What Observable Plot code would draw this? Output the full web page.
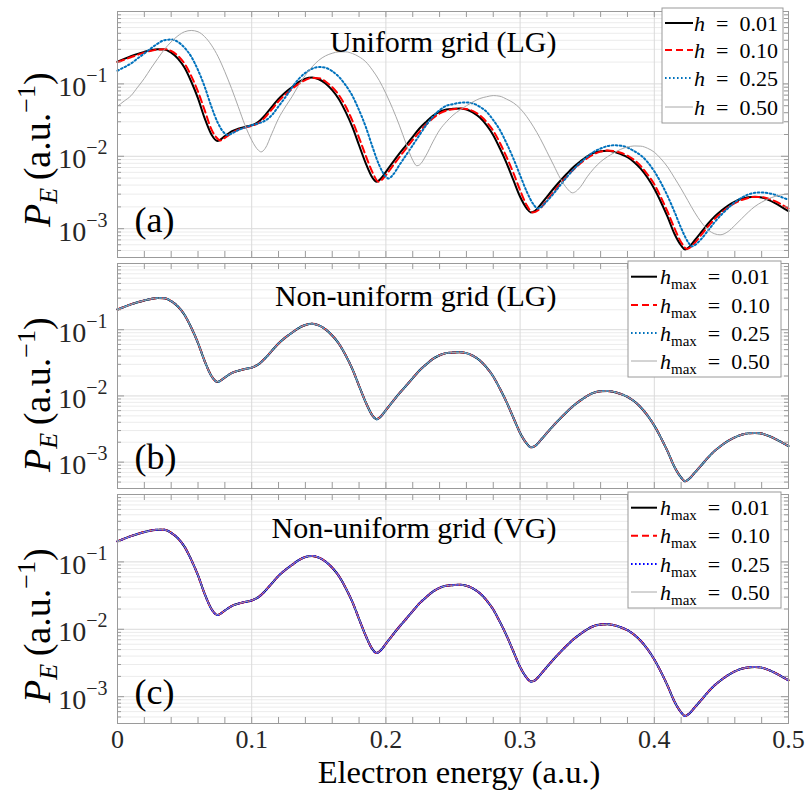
<!DOCTYPE html>
<html>
<head>
<meta charset="utf-8">
<script src="https://cdn.jsdelivr.net/npm/d3@7"></script>
<script src="https://cdn.jsdelivr.net/npm/@observablehq/plot@0.6"></script>
<style>
  body { margin: 0; background: #fff; }
  #chart { width: 805px; height: 803px; position: relative; overflow: hidden; background: #fff; }
  #chart svg { display: block; }
</style>
</head>
<body>
<div id="chart"></div>
<script>
// ---------------- DATA ----------------
// [electron energy (a.u.), P_E (a.u.^-1)]
const uniform_h001 = [[0,0.202],[0.005,0.221],[0.01,0.241],[0.015,0.26],[0.02,0.277],[0.025,0.292],[0.03,0.301],[0.035,0.299],[0.04,0.27],[0.045,0.224],[0.05,0.167],[0.055,0.107],[0.06,0.063],[0.065,0.0333],[0.07,0.020],[0.0745,0.0163],[0.08,0.019],[0.085,0.0221],[0.09,0.024],[0.095,0.0255],[0.1,0.0268],[0.105,0.030],[0.11,0.037],[0.115,0.048],[0.12,0.062],[0.125,0.076],[0.13,0.090],[0.135,0.106],[0.14,0.118],[0.145,0.1226],[0.15,0.116],[0.155,0.1013],[0.16,0.0818],[0.165,0.0615],[0.17,0.0411],[0.175,0.0255],[0.18,0.0142],[0.185,0.0080],[0.19,0.00505],[0.193,0.00445],[0.197,0.0051],[0.2,0.0061],[0.205,0.0082],[0.21,0.0109],[0.215,0.0142],[0.22,0.0186],[0.225,0.0242],[0.23,0.0299],[0.235,0.0362],[0.24,0.0412],[0.245,0.0443],[0.25,0.0452],[0.255,0.0457],[0.26,0.0443],[0.265,0.0402],[0.27,0.0343],[0.275,0.0269],[0.28,0.0196],[0.285,0.0128],[0.29,0.0080],[0.295,0.00468],[0.3,0.00276],[0.305,0.0019],[0.308,0.00168],[0.311,0.00175],[0.315,0.00211],[0.32,0.00276],[0.325,0.00359],[0.33,0.00459],[0.335,0.00578],[0.34,0.00716],[0.345,0.00855],[0.35,0.0100],[0.355,0.0112],[0.36,0.01175],[0.365,0.0119],[0.37,0.0115],[0.375,0.0107],[0.38,0.0097],[0.385,0.0083],[0.39,0.0067],[0.395,0.00505],[0.4,0.00356],[0.405,0.00232],[0.41,0.00144],[0.415,0.00085],[0.42,0.000586],[0.423,0.000516],[0.426,0.00056],[0.43,0.000687],[0.435,0.000895],[0.44,0.00117],[0.445,0.00148],[0.45,0.00178],[0.455,0.00209],[0.46,0.00237],[0.465,0.00259],[0.47,0.00272],[0.475,0.00276],[0.48,0.0027],[0.485,0.0025],[0.49,0.00225],[0.495,0.00199],[0.5,0.00175]];

const uniform_h010 = [[0,0.20],[0.005,0.216],[0.01,0.233],[0.015,0.252],[0.02,0.27],[0.025,0.287],[0.03,0.298],[0.035,0.302],[0.04,0.285],[0.045,0.245],[0.05,0.19],[0.055,0.128],[0.06,0.078],[0.065,0.043],[0.07,0.0235],[0.075,0.0172],[0.0765,0.0165],[0.08,0.018],[0.085,0.0208],[0.09,0.0233],[0.095,0.025],[0.1,0.0263],[0.105,0.0288],[0.11,0.0345],[0.115,0.0445],[0.12,0.0575],[0.125,0.071],[0.13,0.085],[0.135,0.100],[0.14,0.113],[0.145,0.121],[0.15,0.12],[0.155,0.108],[0.16,0.09],[0.165,0.07],[0.17,0.049],[0.175,0.031],[0.18,0.018],[0.185,0.0102],[0.19,0.006],[0.1945,0.00445],[0.2,0.0055],[0.205,0.0073],[0.21,0.0097],[0.215,0.0128],[0.22,0.0168],[0.225,0.0218],[0.23,0.0275],[0.235,0.0335],[0.24,0.039],[0.245,0.0428],[0.25,0.0448],[0.255,0.0456],[0.26,0.045],[0.265,0.042],[0.27,0.0367],[0.275,0.0298],[0.28,0.0225],[0.285,0.0153],[0.29,0.0097],[0.295,0.0059],[0.3,0.0034],[0.305,0.0021],[0.3095,0.00168],[0.315,0.0019],[0.32,0.0025],[0.325,0.0032],[0.33,0.0042],[0.335,0.0053],[0.34,0.0066],[0.345,0.008],[0.35,0.0094],[0.355,0.0107],[0.36,0.0116],[0.365,0.012],[0.37,0.0118],[0.375,0.0112],[0.38,0.0102],[0.385,0.0089],[0.39,0.0073],[0.395,0.0056],[0.4,0.0041],[0.405,0.0027],[0.41,0.0017],[0.415,0.00102],[0.42,0.00065],[0.4245,0.000525],[0.43,0.00063],[0.435,0.00082],[0.44,0.00107],[0.445,0.00136],[0.45,0.00166],[0.455,0.00196],[0.46,0.00225],[0.465,0.00249],[0.47,0.00266],[0.475,0.00275],[0.48,0.00273],[0.485,0.0026],[0.49,0.0024],[0.495,0.00215],[0.5,0.0019]];

const uniform_h025 = [[0,0.152],[0.005,0.17],[0.01,0.191],[0.015,0.225],[0.02,0.263],[0.025,0.31],[0.03,0.361],[0.035,0.402],[0.04,0.41],[0.045,0.381],[0.05,0.315],[0.055,0.237],[0.06,0.155],[0.065,0.091],[0.07,0.0483],[0.075,0.0284],[0.08,0.0206],[0.082,0.0196],[0.085,0.0206],[0.09,0.023],[0.095,0.025],[0.1,0.0268],[0.105,0.0285],[0.11,0.031],[0.115,0.037],[0.12,0.049],[0.125,0.065],[0.13,0.089],[0.135,0.117],[0.14,0.142],[0.145,0.162],[0.15,0.171],[0.155,0.167],[0.16,0.15],[0.165,0.125],[0.17,0.096],[0.175,0.0685],[0.18,0.0434],[0.185,0.0255],[0.19,0.0135],[0.195,0.00754],[0.2,0.00521],[0.202,0.00493],[0.205,0.00548],[0.21,0.00754],[0.215,0.01035],[0.22,0.0142],[0.225,0.0196],[0.23,0.0269],[0.235,0.0352],[0.24,0.0434],[0.245,0.0499],[0.25,0.0525],[0.255,0.0548],[0.26,0.0554],[0.265,0.0536],[0.27,0.0483],[0.275,0.0412],[0.28,0.0316],[0.285,0.023],[0.29,0.015],[0.295,0.0093],[0.3,0.00548],[0.305,0.00324],[0.31,0.00216],[0.313,0.0019],[0.315,0.00196],[0.32,0.0024],[0.325,0.00306],[0.33,0.00399],[0.335,0.00521],[0.34,0.00664],[0.345,0.0082],[0.35,0.00984],[0.355,0.01153],[0.36,0.0128],[0.365,0.0138],[0.37,0.0142],[0.375,0.014],[0.38,0.0132],[0.385,0.0118],[0.39,0.0103],[0.395,0.0083],[0.4,0.0062],[0.405,0.0043],[0.41,0.0028],[0.415,0.00172],[0.42,0.00102],[0.425,0.00066],[0.428,0.00057],[0.43,0.00059],[0.435,0.00072],[0.44,0.00094],[0.445,0.00123],[0.45,0.00156],[0.455,0.00192],[0.46,0.00232],[0.465,0.00267],[0.47,0.00297],[0.475,0.00313],[0.48,0.00316],[0.485,0.00309],[0.49,0.00294],[0.495,0.00272],[0.5,0.0025]];

const uniform_h050 = [[0,0.0492],[0.005,0.058],[0.01,0.0685],[0.015,0.09],[0.02,0.119],[0.025,0.165],[0.03,0.224],[0.035,0.3],[0.04,0.381],[0.045,0.461],[0.05,0.525],[0.055,0.547],[0.06,0.525],[0.065,0.448],[0.07,0.343],[0.075,0.237],[0.08,0.147],[0.085,0.0863],[0.09,0.0483],[0.095,0.0269],[0.1,0.0167],[0.105,0.0121],[0.107,0.0115],[0.11,0.0128],[0.115,0.0206],[0.12,0.0333],[0.125,0.048],[0.13,0.0664],[0.135,0.096],[0.14,0.132],[0.145,0.172],[0.15,0.212],[0.155,0.244],[0.16,0.265],[0.165,0.277],[0.17,0.277],[0.175,0.263],[0.18,0.237],[0.185,0.202],[0.19,0.155],[0.195,0.112],[0.2,0.0736],[0.205,0.0457],[0.21,0.0269],[0.215,0.015],[0.22,0.00883],[0.223,0.0074],[0.225,0.0076],[0.23,0.01035],[0.235,0.0158],[0.24,0.023],[0.245,0.0299],[0.25,0.037],[0.255,0.0434],[0.26,0.0499],[0.265,0.0566],[0.27,0.0628],[0.275,0.0664],[0.28,0.069],[0.285,0.0675],[0.29,0.0615],[0.295,0.0548],[0.3,0.0457],[0.305,0.0352],[0.31,0.0255],[0.315,0.0176],[0.32,0.01153],[0.325,0.00754],[0.33,0.00493],[0.335,0.00359],[0.339,0.00313],[0.345,0.00379],[0.35,0.00521],[0.355,0.00679],[0.36,0.0084],[0.365,0.00984],[0.37,0.01117],[0.375,0.0125],[0.38,0.0134],[0.385,0.0139],[0.39,0.0138],[0.395,0.0129],[0.4,0.0114],[0.405,0.00922],[0.41,0.00708],[0.415,0.00505],[0.42,0.00356],[0.425,0.00245],[0.43,0.00169],[0.435,0.00123],[0.44,0.000966],[0.445,0.00085],[0.449,0.000823],[0.455,0.000914],[0.46,0.00111],[0.465,0.00137],[0.47,0.00169],[0.475,0.00203],[0.48,0.00232],[0.485,0.00259],[0.49,0.00279],[0.495,0.00294],[0.5,0.00303]];

// Non-uniform grids: all four h_max curves lie on top of the converged (h = 0.01) curve.
const nonuniformLG = uniform_h001;
const nonuniformVG = uniform_h001;

const stepLabels = ["0.01", "0.10", "0.25", "0.50"];
const panelTitles = ["Uniform grid (LG)", "Non-uniform grid (LG)", "Non-uniform grid (VG)"];
const panelTags = ["(a)", "(b)", "(c)"];
const xTickValues = [0, 0.1, 0.2, 0.3, 0.4, 0.5];
const xMinorTicks = [0, 0.02, 0.04, 0.06, 0.08, 0.1, 0.12, 0.14, 0.16, 0.18, 0.2, 0.22, 0.24, 0.26, 0.28, 0.3, 0.32, 0.34, 0.36, 0.38, 0.4, 0.42, 0.44, 0.46, 0.48, 0.5];
const xGridValues = [0.1, 0.2, 0.3, 0.4];
const yDecades = [1e-3, 1e-2, 1e-1, 1];
const yTickValues = [1e-3, 1e-2, 1e-1];
const yMinor = [4e-4,5e-4,6e-4,7e-4,8e-4,9e-4,2e-3,3e-3,4e-3,5e-3,6e-3,7e-3,8e-3,9e-3,2e-2,3e-2,4e-2,5e-2,6e-2,7e-2,8e-2,9e-2,0.2,0.3,0.4,0.5,0.6,0.7,0.8,0.9];

// ---------------- STYLE ----------------
const FONT = "Liberation Serif, Times New Roman, serif";
const W = 805, ML = 117, MR = 17;
const AX = "#9a9a9a";

function styles(blue) {
  return [
    {color: "#000000", width: 2, dash: null},
    {color: "#ff0000", width: 2, dash: "7,4"},
    {color: blue, width: 2, dash: "1.6,2.4"},
    {color: "#a8a8a8", width: 1, dash: null}
  ];
}

function makePanel(cfg) {
  const fh = cfg.height - cfg.mt - cfg.mb, fw = W - ML - MR;
  const st = styles(cfg.blue);
  const marks = [
    Plot.ruleY(yMinor, {stroke: "#ececec"}),
    Plot.ruleY(yDecades, {stroke: "#dadada"}),
    Plot.ruleX(xGridValues, {stroke: "#dadada"}),
    ...cfg.series.map((s, i) => Plot.line(s, {
      x: d => d[0], y: d => d[1], stroke: st[i].color, strokeWidth: st[i].width,
      strokeDasharray: st[i].dash, curve: "monotone-x"
    })),
    Plot.frame({stroke: AX}),
    Plot.ruleX(xMinorTicks, {insetTop: fh - 6, stroke: AX}),
    Plot.ruleX(xMinorTicks, {insetBottom: fh - 6, stroke: AX}),
    Plot.ruleY(yDecades, {insetRight: fw - 7, stroke: AX}),
    Plot.ruleY(yDecades, {insetLeft: fw - 7, stroke: AX}),
    Plot.ruleY(yMinor, {insetRight: fw - 4, stroke: AX}),
    Plot.ruleY(yMinor, {insetLeft: fw - 4, stroke: AX}),
    Plot.axisY(yTickValues, {tickSize: 0, tickPadding: 10, fontSize: 28, dy: 3, label: null, fill: "#262626",
      tickFormat: d => "10^" + Math.round(Math.log10(d))}),
    Plot.text([cfg.title], {text: d => d, frameAnchor: "top-left", dx: 439, dy: cfg.titleDy, textAnchor: "end", fontSize: 30}),
    Plot.text([cfg.tag], {text: d => d, frameAnchor: "bottom-left", dx: 17, dy: cfg.tagDy, textAnchor: "start", fontSize: 36})
  ];
  if (cfg.xAxis) {
    marks.push(Plot.axisX(xTickValues, {tickSize: 0, tickPadding: 6, fontSize: 26, label: null, fill: "#262626",
      tickFormat: d => d === 0 ? "0" : String(d)}));
    marks.push(Plot.text(["Electron energy (a.u.)"], {text: d => d, frameAnchor: "bottom", dy: 59, dx: 6, fontSize: 32.5}));
  }
  const svg = Plot.plot({
    width: W, height: cfg.height,
    marginLeft: ML, marginRight: MR, marginTop: cfg.mt, marginBottom: cfg.mb,
    style: {fontFamily: FONT, background: "transparent", overflow: "visible"},
    x: {domain: [0, 0.5], axis: cfg.xAxis ? undefined : null},
    y: {type: "log", domain: [4e-4, 1]},
    marks
  });
  // superscript exponents on y tick labels
  d3.select(svg).selectAll('g[aria-label="y-axis tick label"] text').each(function () {
    const m = this.textContent.match(/^10\^(-?\d+)$/);
    if (!m) return;
    const el = d3.select(this);
    el.text("10");
    el.append("tspan").attr("font-size", 20).attr("dy", -14).text(m[1].replace("-", "\u2212"));
  });
  // y label
  const yl = d3.select(svg).append("text")
    .attr("transform", `translate(50,${cfg.ylabelStart}) rotate(-90)`)
    .attr("text-anchor", "start")
    .attr("font-family", FONT).attr("font-size", 38).attr("fill", "#000");
  yl.append("tspan").attr("font-style", "italic").text("P");
  yl.append("tspan").attr("font-style", "italic").attr("font-size", 26).attr("dy", 7).text("E");
  yl.append("tspan").attr("dy", -7).text("\u2009(a.u.");
  yl.append("tspan").attr("font-size", 26).attr("dy", -15).text("\u22121");
  yl.append("tspan").attr("dy", 15).text(")");
  // legend
  const L = cfg.legend;
  const g = d3.select(svg).append("g").attr("font-family", FONT).attr("text-anchor", "start");
  g.append("rect").attr("x", L.x).attr("y", L.y).attr("width", L.w).attr("height", L.h)
    .attr("fill", "#fff").attr("stroke", AX);
  stepLabels.forEach((lab, i) => {
    const cy = L.y + L.rows[i];
    g.append("line").attr("x1", L.lx1).attr("x2", L.lx2).attr("y1", cy).attr("y2", cy)
      .attr("stroke", st[i].color).attr("stroke-width", st[i].width)
      .attr("stroke-dasharray", st[i].dash);
    const t = g.append("text").attr("x", L.tx).attr("y", cy).attr("dy", "0.35em")
      .attr("text-anchor", "start").attr("font-size", 22).attr("fill", "#000");
    t.append("tspan").attr("font-style", "italic").text("h");
    if (L.sub) {
      t.append("tspan").attr("font-size", 15).attr("dy", 5).text("max");
      t.append("tspan").attr("dy", -5).text("\u2002=\u2002" + lab);
    } else {
      t.append("tspan").text("\u2002=\u2002" + lab);
    }
  });
  return svg;
}

const chart = document.getElementById("chart");
chart.append(makePanel({
  height: 260, mt: 11, mb: 3, blue: "#0072bd",
  series: [uniform_h001, uniform_h010, uniform_h025, uniform_h050],
  title: panelTitles[0], titleDy: 19, tag: panelTags[0], tagDy: -26, ylabelStart: 227,
  legend: {x: 662, y: 8, w: 121, h: 115, rows: [15, 42, 70, 99], lx1: 665, lx2: 693, tx: 694, sub: false}
}));
chart.append(makePanel({
  height: 230, mt: 3, mb: 2, blue: "#0072bd",
  series: [nonuniformLG, nonuniformLG, nonuniformLG, nonuniformLG],
  title: panelTitles[1], titleDy: 21, tag: panelTags[1], tagDy: -20, ylabelStart: 212,
  legend: {x: 628, y: 1, w: 153, h: 116, rows: [15.7, 44, 72, 100], lx1: 631, lx2: 657, tx: 660, sub: true}
}));
chart.append(makePanel({
  height: 313, mt: 4, mb: 80, blue: "#0000ff", xAxis: true,
  series: [nonuniformVG, nonuniformVG, nonuniformVG, nonuniformVG],
  title: panelTitles[2], titleDy: 22, tag: panelTags[2], tagDy: -20, ylabelStart: 213,
  legend: {x: 628, y: 2, w: 153, h: 116, rows: [15.7, 43.7, 72, 100], lx1: 631, lx2: 657, tx: 660, sub: true}
}));
</script>
</body>
</html>
